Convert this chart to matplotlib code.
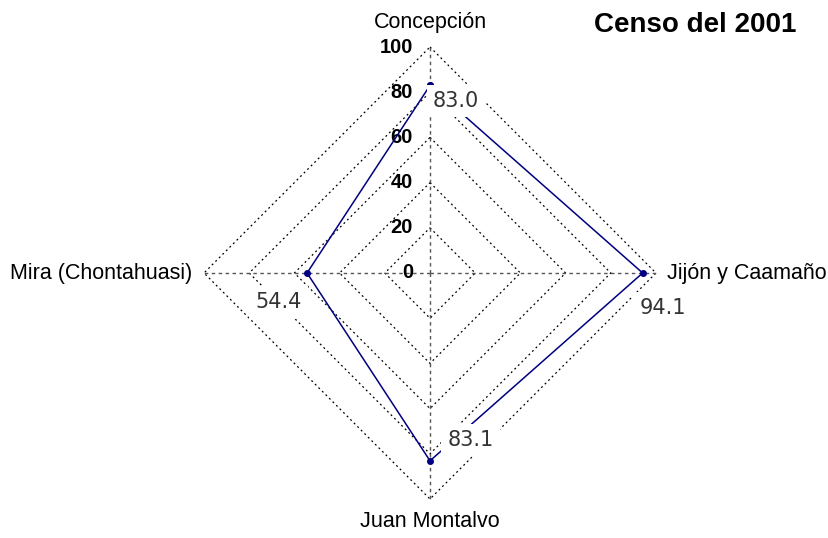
import numpy as np
import matplotlib.pyplot as plt

categories = ['Concepción', 'Jijón y Caamaño', 'Juan Montalvo', 'Mira (Chontahuasi)']
values = [83.0, 94.1, 83.1, 54.4]
rings = [20, 40, 60, 80, 100]
tick_labels = ['0', '20', '40', '60', '80', '100']
title = 'Censo del 2001'

# axes: top, right, bottom, left (clockwise from top)
angles = np.array([90, 0, -90, 180]) * np.pi / 180
dx = np.cos(angles)
dy = np.sin(angles)

fig = plt.figure(figsize=(8.29, 5.38), dpi=100)
ax = fig.add_axes([0, 0, 1, 1])
# 1 unit = 2.26 px, centre at pixel (430, 273)
s = 2.26
ax.set_xlim(-430 / s, (829 - 430) / s)
ax.set_ylim(-(538 - 273) / s, 273 / s)
ax.set_aspect('equal')
ax.axis('off')

# grid diamonds
for r in rings:
    xs = np.append(dx * r, dx[0] * r)
    ys = np.append(dy * r, dy[0] * r)
    ax.plot(xs, ys, color='black', lw=0.9, ls=(0, (1.5, 2.5)), zorder=1)

# spokes
for i in range(4):
    ax.plot([0, dx[i] * 100], [0, dy[i] * 100], color='#555555', lw=1.0,
            ls=(0, (2.5, 2.5)), zorder=1)

# tick labels along the top axis
for r, t in zip([0] + rings, tick_labels):
    ax.text(-7.5, r, t, ha='right', va='center', fontsize=14.5, fontweight='bold',
            family='Liberation Sans', zorder=2)

# data
xs = np.array(values) * dx
ys = np.array(values) * dy
ax.plot(np.append(xs, xs[0]), np.append(ys, ys[0]), color='#000080', lw=1.1,
        marker='o', ms=4, zorder=3)

# value labels with white boxes
lab_pos = [(11.5, 76), (103, -15.5), (18, -74), (-67, -13)]
for (lx, ly), v in zip(lab_pos, values):
    ax.text(lx, ly, f'{v:.1f}', ha='center', va='center', fontsize=15,
            color='#333333', family='DejaVu Sans',
            bbox=dict(boxstyle='square,pad=0.3', fc='white', ec='none'), zorder=4)

# category labels
lf = dict(fontsize=15.5, family='Liberation Sans', color='black')
ax.text(0, (273 - 22) / s, categories[0], ha='center', va='center', **lf)
ax.text((667 - 430) / s, 0, categories[1], ha='left', va='center', **lf)
ax.text(0, (273 - 522) / s, categories[2], ha='center', va='center', **lf)
ax.text((192 - 430) / s, 0, categories[3], ha='right', va='center', **lf)

ax.text((695 - 430) / s, (273 - 25) / s, title, ha='center', va='center',
        fontsize=20, fontweight='bold', family='Liberation Sans')

fig.savefig('out.png', dpi=100)
